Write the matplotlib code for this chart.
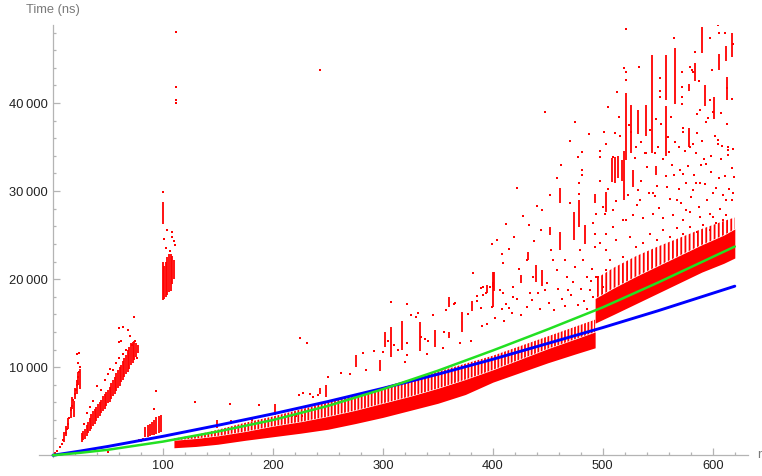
import matplotlib.pyplot as plt
from matplotlib.ticker import MultipleLocator, FixedLocator, FuncFormatter

plt.rcParams['font.family'] = ['Liberation Sans', 'DejaVu Sans']
plt.rcParams['hatch.linewidth'] = 1.3

# reference curves
line_r = [0, 25, 50, 100, 150, 200, 250, 300, 350, 400, 450, 500, 550, 620]
blue_t = [0, 480, 1000, 2150, 3400, 4700, 6100, 7600, 9200, 10900, 12700, 14500, 16400, 19200]
green_t = [0, 280, 620, 1550, 2700, 4000, 5600, 7500, 9600, 11900, 14300, 16800, 19600, 23700]

# main band below r = 493: dense core plus a thinner layer up to the curves
low_r = [110, 130, 150, 175, 200, 225, 250, 275, 300, 325, 350, 375, 400, 425, 450, 475, 493]
low_lo = [850, 1000, 1250, 1700, 2100, 2500, 2950, 3600, 4300, 5100, 5900, 6900, 8300, 9400, 10500, 11500, 12200]
low_hi = [1700, 1900, 2200, 2700, 3300, 3800, 4400, 5100, 5900, 6700, 7600, 8600, 9700, 10900, 12100, 13200, 14000]
low_top = [1900, 2300, 2900, 3700, 4400, 5200, 6000, 6900, 7700, 8600, 9500, 10400, 11300, 12400, 13500, 14600, 15400]

# main band above r = 493
high_r = [493, 510, 530, 550, 570, 590, 610, 620]
high_lo = [15000, 16000, 17200, 18400, 19600, 20800, 21800, 22400]
high_hi = [17800, 19000, 20300, 21500, 22700, 23900, 25000, 25700]
high_top = [20000, 21300, 22600, 23700, 24700, 25700, 26600, 27000]

# vertical runs of repeated timings (r, lowest, highest)
streaks = [
    (10, 1500, 2600), (12, 2200, 3300), (14, 3000, 4200), (16, 4200, 5500), (17.5, 5200, 6600),
    (19, 4300, 6200), (20, 6400, 7600), (22, 7000, 8600), (23, 8000, 9400), (24.5, 7500, 9800),
    (26, 1500, 2500), (27.5, 1700, 2700), (29, 1900, 3000), (30.5, 2200, 3400), (32, 2500, 3800),
    (33.5, 2700, 4200), (35, 3000, 4700), (36.5, 3300, 5000), (38, 3600, 5200), (39.5, 3900, 5500),
    (41, 4200, 5800), (42.5, 4500, 6000), (44, 4800, 6300), (45.5, 5000, 6700), (47, 5300, 7000),
    (48.5, 5600, 7200), (50, 5900, 7400), (51.5, 6100, 7800), (53, 6400, 8200), (54.5, 6700, 8600),
    (56, 7000, 8900), (57.5, 7300, 9300), (59, 7600, 9700), (60.5, 7900, 10000), (62, 8300, 10300),
    (63.5, 8600, 10700), (65, 8900, 11000), (66.5, 9200, 11400), (68, 9500, 11900),
    (69.5, 9800, 12300), (71, 10200, 12700), (72.5, 10500, 12900), (74, 10800, 13000),
    (75.5, 11200, 12800), (77, 11600, 12500),
    (78, 1500, 1800), (80, 1500, 1900), (82, 1600, 2000),
    (84, 2100, 3200), (86, 2100, 3400), (88, 2200, 3600), (90, 2300, 3800), (92, 2300, 4000),
    (94, 2400, 4300), (96, 2500, 4500), (98, 2600, 4600),
    (99.7, 17600, 22000), (101, 17800, 21500), (102.5, 18000, 22000), (104, 18200, 22500),
    (105.5, 18500, 22800), (107, 18700, 22900), (108.5, 19500, 22600), (110, 20000, 22200),
    (99.7, 26300, 28800),
    (149.5, 3070, 3970), (162, 3600, 4000), (202, 4540, 5870), (248, 6600, 7950), (243, 7000, 7600),
    (275.5, 10000, 11400), (297, 9600, 10800), (301.5, 12300, 14000), (307, 11200, 14600),
    (317.6, 11900, 15300), (333.6, 11800, 15140), (347, 12300, 14200), (359.7, 13300, 14000),
    (360, 16850, 18000), (372, 14000, 16300), (381, 16400, 17500), (400, 16850, 19700),
    (399.7, 19100, 20800), (395, 18400, 19300),
    (401, 18700, 20800), (425.5, 19540, 20450), (432, 22150, 23100), (439, 19700, 21600),
    (445, 19200, 21000), (452, 25000, 25900), (461, 28600, 30300), (461.5, 23290, 25370),
    (474, 24420, 27640), (478, 25940, 28970), (484, 24000, 26100), (492.7, 28600, 29700),
    (503, 27600, 29900), (508, 31000, 33800), (511, 30900, 33900), (514, 31500, 34000),
    (517, 31200, 33500), (519, 29000, 34600), (527, 30500, 32400), (548, 31800, 32900),
    (521, 33500, 41100), (525.7, 34300, 39800), (532, 36500, 39200), (539, 36300, 39800),
    (545, 34300, 45500), (557, 40300, 45500), (557, 34000, 39700), (565.5, 39900, 46200),
    (578, 41400, 42200), (583.5, 42500, 44500), (590.6, 45630, 48650), (592.5, 39700, 42000),
    (601, 38200, 40700), (606, 43700, 45600), (612, 44800, 46500), (613, 40300, 42900),
    (617, 45230, 47950), (578.5, 35000, 37200),
]

# single timings
points = [
    (0, 0), (2, 200), (4, 500), (6, 940), (8, 1300), (9.4, 1700), (11.5, 2500), (13, 3000),
    (14, 3600), (15, 4200), (16, 5100), (17, 5600), (18, 6250), (20, 7000), (21, 7400),
    (22, 8000), (23, 8900), (24.5, 10000), (23.6, 11600), (21.5, 11500), (22.5, 10500), (24, 9500),
    (28, 3500), (31, 4800), (34, 5500), (36, 6200), (40, 7900), (44, 7400), (47, 8600),
    (50, 9200), (52, 9800), (55, 9700), (57, 10500), (60, 11000), (59.7, 12900), (60, 14500),
    (63.6, 14600), (68, 14200), (73.6, 15700), (74.5, 13000), (76, 11000), (66, 12000),
    (70, 13500), (72, 12500), (64, 11500), (62, 13000), (50, 340),
    (93.6, 7300), (92, 5200), (99.7, 29900), (104, 25600), (108, 25400), (108, 24800),
    (101, 24600), (110, 24300), (110.6, 23900), (103, 23500), (106, 23200),
    (112, 48100), (112, 41800), (112, 40300), (112, 39950),
    (129, 5990), (161, 5800), (187, 5700), (173, 3970), (181, 3970), (217, 4430), (221, 4430),
    (226, 4430), (227, 7050), (234, 6900), (241, 6800), (224, 6800), (236, 6600), (231, 12760),
    (243, 43700), (224.5, 13300), (262, 9300), (250, 8900), (270, 9200), (285, 9700),
    (307, 17350), (321.5, 17230), (332, 16100), (345.7, 15900), (330.5, 15700), (326, 15900),
    (366, 17300), (365, 17200), (357, 16500), (356, 14000), (338, 13200), (335, 13400),
    (341, 13000), (381.5, 20640), (389, 19000), (391, 19100), (386, 18100), (386, 17500),
    (389, 16700), (377, 16000), (399.4, 23970), (322, 12800), (322, 11400), (292, 11800),
    (282, 11600), (310, 12500), (314, 12000), (300, 11700), (305, 13000), (390, 14700),
    (395, 14900), (320, 10600), (340, 11500), (355, 12200), (370, 12800), (380, 13000),
    (391.2, 18180), (394.2, 18370), (397.3, 19120), (398.8, 16850), (406.4, 18740),
    (407.9, 16660), (409.4, 21850), (409.4, 18370), (412.4, 17230), (417, 16100),
    (418.5, 19120), (418.5, 17990), (430.6, 22150), (433.6, 18370), (436.7, 20260),
    (447.3, 18740), (453.3, 23290), (454.8, 22150), (457.9, 21020), (465.5, 22150),
    (467, 20260), (468.5, 18740), (474.5, 21400), (479.1, 23290), (482.1, 22150),
    (485.2, 20260), (488.2, 18740), (492.7, 23670), (491.2, 17990), (494.2, 20260),
    (402, 15600), (410, 15300), (415, 16700), (422, 17700), (426, 15900), (431, 16800),
    (436, 17600), (441, 18400), (443, 16600), (449, 19600), (451, 17300), (456, 16500),
    (459, 18900), (463, 17700), (466, 16900), (471, 18200), (473, 19700), (477, 17100),
    (480, 18900), (483, 17500), (486, 16600), (489, 19800), (490, 21200),
    (421.5, 30400), (411.8, 26300), (423.8, 21200), (437, 24340), (444, 25560),
    (469.7, 28600), (478, 30900), (478, 29700), (481, 32400), (481, 31800), (497, 31200),
    (404, 24500), (408, 22800), (415, 23400), (419, 24800), (427, 27200), (433, 26100),
    (440, 28300), (445, 27800), (452, 29600), (458, 31500), (462, 33000), (470, 35700),
    (487, 36500),
    (532, 30100), (538, 34300), (547, 34300), (555, 33600), (560, 34400), (557, 31700),
    (565, 31800), (573, 31900), (576, 30900), (585, 30900), (588, 30900), (542, 29800),
    (547, 29400), (589, 33000), (592, 33600), (598, 34000), (614, 34100), (617, 32600),
    (505, 30200), (512, 28900), (516, 36200), (523, 29600), (529, 33800), (531, 28400),
    (535, 31200), (540, 32700), (543, 36900), (549, 30600), (551, 28100), (553, 37600),
    (561, 29100), (563, 33000), (566, 35600), (569, 30200), (571, 28600), (575, 34600),
    (577, 32900), (580, 29300), (583, 31800), (587, 28200), (590, 35700), (593, 30800),
    (595, 29000), (598, 32200), (602, 36300), (603, 30300), (607, 33600), (609, 29500),
    (611, 31700), (613, 37600), (615, 30200), (618, 29800), (619, 31600), (608, 35100),
    (596, 38300), (586, 38800), (562, 38400), (548, 38200), (535, 35600), (524, 37500),
    (515, 38400), (505, 39600),
    (500.3, 28210), (501.8, 27450), (509.4, 27830), (518.5, 26700), (527.6, 27260),
    (536.7, 26890), (545.8, 27450), (554.8, 26890), (563.9, 27260), (573, 26700),
    (579.1, 27640), (588.2, 27070), (597.3, 27450), (606.4, 28020), (612.4, 27260),
    (492.7, 25180), (497.3, 24050), (503.3, 23290), (506.4, 22150), (512.4, 24420),
    (518.5, 22530), (524.5, 24800), (530.6, 23670), (536.7, 24050), (542.7, 25180),
    (548.8, 24420), (554.8, 25560), (560.9, 24800), (567, 25750), (573, 25180),
    (579.1, 25940), (585.2, 25370), (591.2, 26130), (597.3, 25560), (603.3, 26320),
    (609.4, 26700), (495.8, 20260), (500.3, 19120), (503.3, 21020), (494.2, 27450),
    (491.2, 26320), (576, 27830), (600, 29730), (606, 31460), (612, 28960), (594, 33130),
    (585, 34270), (570, 32380), (558, 30500), (546, 29730), (534, 28960), (521.5, 26700),
    (509.4, 25940), (503.3, 25180), (600, 27070), (617, 28960), (567, 28960), (582, 30100),
    (521, 48360), (447, 38970), (475, 37870), (481, 34460), (477.5, 33900), (501, 36730),
    (497, 34570), (497, 33890), (519, 43920), (521, 43540), (521, 42600), (513, 41260),
    (533, 44100), (552, 42800), (552, 41400), (552, 40700), (565, 47330), (571.6, 43500),
    (572, 41800), (572, 40700), (572, 39900), (573, 37200), (579, 35000), (581, 43800),
    (584, 45800), (587, 42500), (597, 47350), (599, 43700), (605, 48850), (606, 47950),
    (611, 48000), (618, 46700), (605, 35800), (614, 35000), (503.3, 35400), (508.8, 33890),
    (510.9, 36540), (526, 36730), (530.6, 35030), (539.7, 34270), (550.3, 35030),
    (559.4, 36160), (569.4, 35030), (573, 36730), (582, 35400), (585.2, 36540),
    (588.2, 39190), (594.2, 37860), (597.3, 40330), (600.3, 39000), (604.8, 35400),
    (607.9, 38810), (614, 34650), (618.5, 34730), (613.3, 41650), (617.3, 40500),
    (579, 44100), (582, 43540),
]

red = '#ff0000'
axis_grey = '#b4b4b4'

fig = plt.figure(figsize=(7.62, 4.76), dpi=100)
ax = fig.add_axes([39 / 762, 19 / 476, 709 / 762, 432 / 476])
ax.set_xlim(-12.7, 632)
ax.set_ylim(-200, 48860)

# bands: solid core, thinner streaky layer on top
ax.fill_between(low_r, low_hi, low_top, facecolor='none', edgecolor=red, hatch='|||||',
                linewidth=0, zorder=1)
ax.fill_between(low_r, low_lo, low_hi, color=red, linewidth=0, zorder=1)
ax.fill_between(high_r, high_hi, high_top, facecolor='none', edgecolor=red, hatch='||||',
                linewidth=0, zorder=1)
ax.fill_between(high_r, high_lo, high_hi, color=red, linewidth=0, zorder=1)

sr = [s[0] for s in streaks]
slo = [s[1] for s in streaks]
shi = [s[2] for s in streaks]
ax.vlines(sr, slo, shi, color=red, linewidth=1.3, zorder=2)

pr = [p[0] for p in points]
pt = [p[1] for p in points]
ax.plot(pr, pt, 's', color=red, markersize=1.8, markeredgewidth=0, zorder=2)

ax.plot(line_r, blue_t, color='#0000ff', linewidth=2.1, zorder=3, solid_capstyle='round')
ax.plot(line_r, green_t, color='#22e022', linewidth=1.8, zorder=4, solid_capstyle='round')

# axes through the origin
for side in ['top', 'right']:
    ax.spines[side].set_visible(False)
for side in ['left', 'bottom']:
    ax.spines[side].set_position(('data', 0))
    ax.spines[side].set_color(axis_grey)
    ax.spines[side].set_linewidth(0.9)

ax.xaxis.set_major_locator(FixedLocator([100, 200, 300, 400, 500, 600]))
ax.xaxis.set_minor_locator(MultipleLocator(20))
ax.yaxis.set_major_locator(FixedLocator([10000, 20000, 30000, 40000]))
ax.yaxis.set_minor_locator(MultipleLocator(2000))
ax.yaxis.set_major_formatter(FuncFormatter(lambda v, pos: f'{int(v) // 1000}\u2009000'))

ax.tick_params(which='both', direction='in', color=axis_grey, width=0.9,
               labelsize=9.3, labelcolor='#222222', pad=3.5)
ax.tick_params(which='major', length=4.8)
ax.tick_params(which='minor', length=2.4)

fig.text(53 / 762, 1 - 10 / 476, 'Time (ns)', ha='center', va='center',
         fontsize=9.3, color='#7a7a7a')
fig.text(759 / 762, 1 - 455 / 476, 'r', ha='center', va='center',
         fontsize=9.3, color='#7a7a7a')

fig.savefig('out.png', dpi=100)
